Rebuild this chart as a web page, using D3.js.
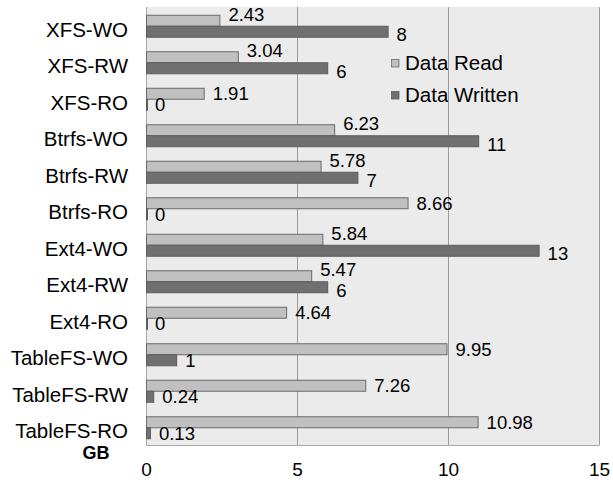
<!DOCTYPE html>
<html>
<head>
<meta charset="utf-8">
<script src="https://cdn.jsdelivr.net/npm/d3@7"></script>
<style>
  html, body { margin: 0; padding: 0; background: #fff; }
  svg { display: block; font-family: "Liberation Sans", Arial, Helvetica, sans-serif; }
</style>
</head>
<body>
<svg id="chart" width="613" height="483"></svg>
<script>
// File system configurations, listed top to bottom
const categories = [
  "XFS-WO", "XFS-RW", "XFS-RO",
  "Btrfs-WO", "Btrfs-RW", "Btrfs-RO",
  "Ext4-WO", "Ext4-RW", "Ext4-RO",
  "TableFS-WO", "TableFS-RW", "TableFS-RO"
];
const seriesNames = ["Data Read", "Data Written"];
// GB read / written per configuration
const dataRead    = [2.43, 3.04, 1.91, 6.23, 5.78, 8.66, 5.84, 5.47, 4.64, 9.95, 7.26, 10.98];
const dataWritten = [8, 6, 0, 11, 7, 0, 13, 6, 0, 1, 0.24, 0.13];
const xTicks = [0, 5, 10, 15];
const axisTitle = "GB";

const svg = d3.select("#chart");
const plot = { left: 146, right: 599, top: 7, bottom: 445 };

const x = d3.scaleLinear().domain([0, 15]).range([plot.left, plot.right]);
const y = d3.scaleBand().domain(categories).range([plot.top, plot.bottom]);
const pairH = 22;
const y1 = d3.scaleBand().domain(seriesNames).range([0, pairH]);
const pairOffset = (y.bandwidth() - pairH) / 2 + 1;

const fills = { "Data Read": "#c0c0c0", "Data Written": "#707070" };
const strokes = { "Data Read": "#6a6a6a", "Data Written": "#5c5c5c" };

const rows = categories.map((c, i) => ({
  cat: c,
  vals: [
    { s: "Data Read", v: dataRead[i] },
    { s: "Data Written", v: dataWritten[i] }
  ]
}));

// plot background
svg.append("rect")
  .attr("x", plot.left).attr("y", plot.top)
  .attr("width", plot.right - plot.left).attr("height", plot.bottom - plot.top)
  .attr("fill", "#ebebeb");

// legend
const legend = svg.append("g");
seriesNames.forEach((s, i) => {
  const ly = 63 + i * 32;
  legend.append("rect")
    .attr("x", 391.5).attr("y", ly - 3.5)
    .attr("width", 7.5).attr("height", 7.5)
    .attr("fill", fills[s]).attr("stroke", strokes[s]).attr("stroke-width", 0.8);
  legend.append("text")
    .attr("x", 405).attr("y", ly)
    .attr("dy", "0.35em")
    .attr("font-size", 20.5)
    .attr("fill", "#000")
    .text(s);
});

// vertical grid lines
svg.append("g")
  .selectAll("line")
  .data(xTicks.slice(1))
  .join("line")
  .attr("x1", d => Math.round(x(d)) + 0.5).attr("x2", d => Math.round(x(d)) + 0.5)
  .attr("y1", plot.top).attr("y2", plot.bottom)
  .attr("stroke", "#9c9c9c").attr("stroke-width", 1);

// plot frame: left and bottom edges
svg.append("path")
  .attr("d", `M${plot.left + 0.5},${plot.top}V${plot.bottom + 0.5}H${plot.right + 0.5}`)
  .attr("fill", "none").attr("stroke", "#a8a8a8").attr("stroke-width", 1);

// bars
const groups = svg.append("g")
  .selectAll("g")
  .data(rows)
  .join("g")
  .attr("transform", d => `translate(0,${y(d.cat) + pairOffset})`);

groups.selectAll("rect")
  .data(d => d.vals)
  .join("rect")
  .attr("x", x(0) + 0.5)
  .attr("y", d => y1(d.s))
  .attr("width", d => Math.max(1, x(d.v) - x(0)))
  .attr("height", y1.bandwidth())
  .attr("fill", d => fills[d.s])
  .attr("stroke", d => strokes[d.s])
  .attr("stroke-width", 1);

// value labels; when the written label sits to the right of the read one,
// the pair is spread apart vertically so the texts stay clear of each other
const fmt = v => String(v);
groups.each(function (d) {
  const g = d3.select(this);
  const spread = d.vals[1].v > d.vals[0].v;
  d.vals.forEach((p, k) => {
    let cy = y1(p.s) + y1.bandwidth() / 2;
    if (spread) cy += (k === 0 ? -6.5 : 3);
    g.append("text")
      .attr("x", x(p.v) + 9)
      .attr("y", cy)
      .attr("dy", "0.35em")
      .attr("font-size", 18.5)
      .attr("fill", "#000")
      .text(fmt(p.v));
  });
});

// category axis
const yAxis = svg.append("g")
  .attr("transform", `translate(${plot.left},0)`)
  .call(d3.axisLeft(y).tickSize(0).tickPadding(18));
yAxis.select(".domain").remove();
yAxis.selectAll("text")
  .attr("font-family", "\"Liberation Sans\", Arial, Helvetica, sans-serif")
  .attr("font-size", 20.5)
  .attr("fill", "#000")
  .attr("dy", "0.55em");

// value axis
const xAxis = svg.append("g")
  .attr("transform", `translate(0,${plot.bottom})`)
  .call(d3.axisBottom(x).tickValues(xTicks).tickSize(0).tickPadding(18).tickFormat(d3.format("d")));
xAxis.select(".domain").remove();
xAxis.selectAll("text")
  .attr("font-family", "\"Liberation Sans\", Arial, Helvetica, sans-serif")
  .attr("font-size", 19)
  .attr("fill", "#000");

// unit title
svg.append("text")
  .attr("x", 96).attr("y", 459)
  .attr("text-anchor", "middle")
  .attr("font-size", 18)
  .attr("font-weight", "bold")
  .attr("fill", "#000")
  .text(axisTitle);
</script>
</body>
</html>
